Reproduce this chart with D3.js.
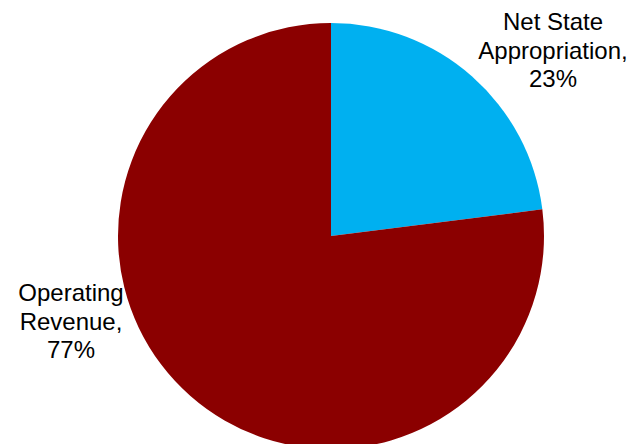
<!DOCTYPE html>
<html>
<head>
<meta charset="utf-8">
<script src="https://cdn.jsdelivr.net/npm/d3@7"></script>
<style>
html,body{margin:0;padding:0;background:#fff;overflow:hidden;}
svg{display:block;}
text{font-family:"Liberation Sans",Arial,sans-serif;font-size:24px;fill:#000;}
</style>
</head>
<body>
<svg id="chart" width="633" height="444"></svg>
<script>
const categories = ["Net State Appropriation", "Operating Revenue"];
const values = [23, 77];
const colors = ["#00B0F0", "#8B0000"];
const labelLines = [["Net State", "Appropriation,", "23%"], ["Operating", "Revenue,", "77%"]];

const svg = d3.select("#chart");
const cx = 331, cy = 236, r = 213;
const g = svg.append("g").attr("transform", `translate(${cx},${cy})`);

const pie = d3.pie().sort(null).value(d => d)(values);
const arc = d3.arc().innerRadius(0).outerRadius(r);
const color = d3.scaleOrdinal().domain(categories).range(colors);

g.selectAll("path").data(pie).join("path")
  .attr("d", arc)
  .attr("fill", (d, i) => color(categories[i]));

const labelPos = [{x: 553, y: 30}, {x: 71, y: 301}];
const lh = 28.5;
labelLines.forEach((lines, i) => {
  const t = svg.append("text").attr("text-anchor", "middle");
  lines.forEach((ln, j) => {
    t.append("tspan").attr("x", labelPos[i].x).attr("y", labelPos[i].y + j * lh).text(ln);
  });
});
</script>
</body>
</html>
